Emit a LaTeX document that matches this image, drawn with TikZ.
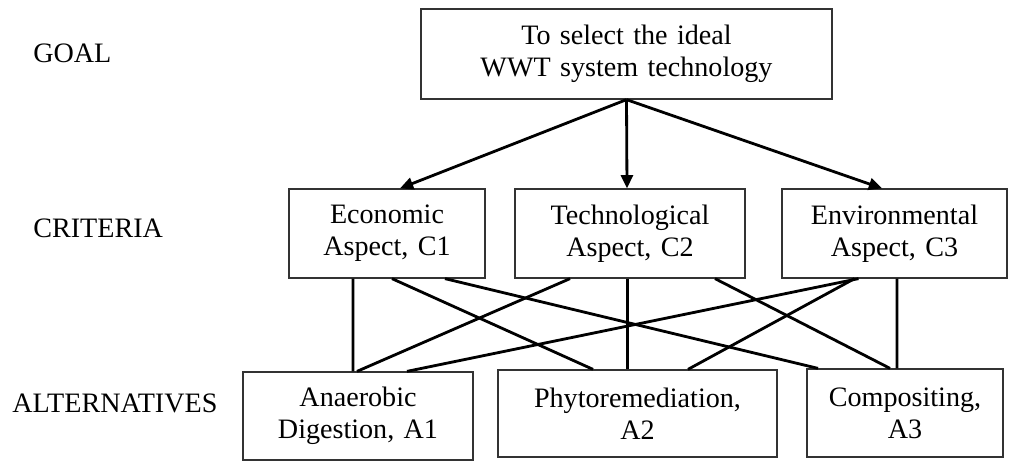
\documentclass[tikz,border=0pt]{standalone}
\usepackage{fontspec}
\setmainfont{Liberation Serif}
\usetikzlibrary{arrows.meta,calc}

\tikzset{
  box/.style={draw=black!80, line width=0.9pt, align=center, inner xsep=0pt,
    font=\fontsize{20}{23}\selectfont},
  level/.style={anchor=base west, inner sep=0pt, font=\fontsize{20}{23}\selectfont},
  link/.style={line width=2pt},
  pick/.style={link, -{Triangle[length=0.33cm,width=0.3cm]}},
}

\begin{document}
\begin{tikzpicture}
\useasboundingbox (0,0) rectangle (25.225,-11.575);

% levels
\node[level] (lgoal) at (0.825,-1.55) {GOAL};
\node[level] (lcrit) at (0.825,-5.925) {CRITERIA};
\node[level] (lalt) at (0.3,-10.3) {ALTERNATIVES};

% goal
\node[box, text width=10.275cm, minimum height=2.25cm] (goal) at (15.6625,-1.35) {To select the ideal\\WWT system technology};

% criteria
\node[box, text width=4.9cm, minimum height=2.225cm] (c1) at (9.675,-5.8375) {Economic\\Aspect, C1};
\node[box, text width=5.75cm, minimum height=2.225cm] (c2) at (15.75,-5.8375) {Technological\\Aspect, C2};
\node[box, text width=5.625cm, minimum height=2.225cm] (c3) at (22.3625,-5.8375) {Environmental\\Aspect, C3};

% alternatives
\node[box, text width=5.75cm, minimum height=2.2cm] (a1) at (8.95,-10.4) {Anaerobic\\Digestion, A1};
\node[box, text width=6.975cm, minimum height=2.175cm] (a2) at (15.9375,-10.3375) {Phytoremediation,\\A2};
\node[box, text width=4.9cm, minimum height=2.2cm] (a3) at (22.625,-10.325) {Compositing,\\A3};

% goal to criteria
\draw[pick] (goal.south) -- ([xshift=0.325cm]c1.north);
\draw[pick] (goal.south) -- ([xshift=-0.075cm]c2.north);
\draw[pick] (goal.south) -- ([xshift=-0.3125cm]c3.north);

% criteria to alternatives
\draw[link] ([xshift=-0.85cm]c1.south) -- ([xshift=-0.125cm]a1.north);
\draw[link] ([xshift=0.125cm]c1.south) -- ([xshift=-1.1125cm]a2.north);
\draw[link] ([xshift=1.45cm]c1.south) -- ([xshift=-2.175cm]a3.north);

\draw[link] ([xshift=-1.5cm]c2.south) -- ([xshift=-0.025cm]a1.north);
\draw[link] ([xshift=-0.0625cm]c2.south) -- ([xshift=-0.25cm]a2.north);
\draw[link] ([xshift=2.125cm]c2.south) -- ([xshift=-0.375cm]a3.north);

\draw[link] ([xshift=-0.9cm]c3.south) -- ([xshift=1.225cm]a1.north);
\draw[link] ([xshift=-1.0cm]c3.south) -- ([xshift=1.2625cm]a2.north);
\draw[link] ([xshift=0.0625cm]c3.south) -- ([xshift=-0.2cm]a3.north);
\end{tikzpicture}
\end{document}
